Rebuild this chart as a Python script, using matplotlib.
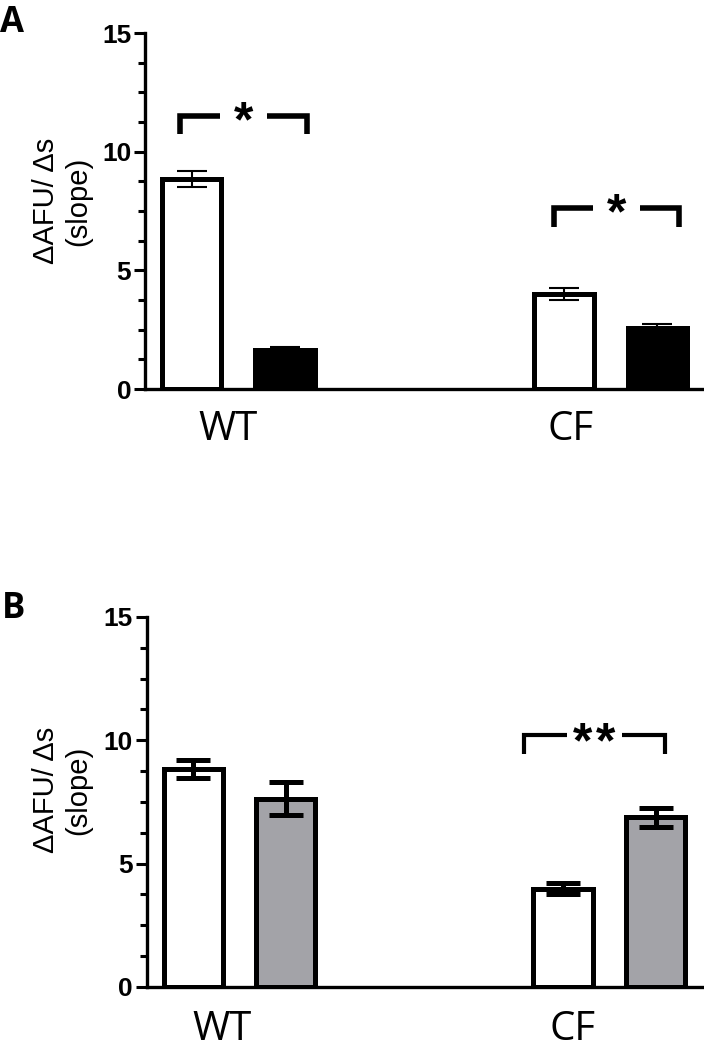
import numpy as np
import matplotlib
matplotlib.use("Agg")
import matplotlib.pyplot as plt
from matplotlib.transforms import blended_transform_factory

# Data (mean +/- SEM)
groups = ["WT", "CF"]
a_ctrl = [8.85, 4.00]
a_ctrl_err = [0.33, 0.24]
a_trt = [1.64, 2.58]
a_trt_err = [0.15, 0.16]

b_ctrl = [8.85, 3.99]
b_ctrl_err = [0.36, 0.24]
b_trt = [7.64, 6.88]
b_trt_err = [0.68, 0.38]

# significance brackets: (left, right, top, leg bottom, number of stars)
a_sig = [(-0.12, 1.24, 11.5, 10.75, 1), (3.89, 5.23, 7.63, 6.83, 1)]
b_sig = [(3.58, 5.10, 10.2, 9.46, 2)]

x_ctrl = np.array([0, 4])
x_trt = x_ctrl + 1
gray = "#a3a3a8"
width = 0.64

fig = plt.figure(figsize=(7.04, 10.5), dpi=100)
axA = fig.add_axes([0.206, 0.6295, 0.794, 0.339])
axB = fig.add_axes([0.2088, 0.06, 0.788, 0.3524])


def style_axis(ax, label_x, label_y):
    ax.set_xlim(-0.5, 5.5)
    ax.set_ylim(0, 15)
    for s in ["top", "right"]:
        ax.spines[s].set_visible(False)
    for s in ["left", "bottom"]:
        ax.spines[s].set_linewidth(2.4)
    ax.set_yticks([0, 5, 10, 15])
    ax.set_yticks(np.arange(0, 15.01, 1.25), minor=True)
    ax.tick_params(axis="y", which="major", length=8, width=2.2, pad=2)
    ax.tick_params(axis="y", which="minor", length=5, width=2.2)
    for t in ax.get_yticklabels():
        t.set_fontfamily("Liberation Sans")
        t.set_fontweight("bold")
        t.set_fontsize(19)
    ax.set_xticks([])
    trans = blended_transform_factory(ax.transData, ax.transAxes)
    for x, g in zip(label_x, groups):
        ax.text(x, -0.143, g, transform=trans, ha="center", va="baseline",
                fontsize=29, family="Open Sans")
    ax.text(label_y[0], label_y[1], "\u0394AFU/ \u0394s\n(slope)", transform=ax.transAxes,
            rotation=90, ha="center", va="center", fontsize=21,
            family="Liberation Sans", multialignment="center", linespacing=1.2)


def brackets(ax, sig, lw, half_gap, fs, dy, star_dx):
    for left, right, top, bot, n in sig:
        mid = (left + right) / 2
        ax.plot([left, left, mid - half_gap], [bot, top, top], color="black",
                lw=lw, solid_joinstyle="miter", solid_capstyle="butt")
        ax.plot([mid + half_gap, right, right], [top, top, bot], color="black",
                lw=lw, solid_joinstyle="miter", solid_capstyle="butt")
        offs = (np.arange(n) - (n - 1) / 2) * star_dx
        for o in offs:
            ax.text(mid + o, top + dy, "*", ha="center", va="center", fontsize=fs,
                    fontweight="bold", family="Liberation Sans")


# Panel A
axA.bar(x_ctrl, a_ctrl, width, color="white", edgecolor="black", linewidth=3.6, zorder=2)
axA.bar(x_trt, a_trt, width, color="black", edgecolor="black", linewidth=3.6, zorder=2)
axA.errorbar(x_ctrl, a_ctrl, yerr=a_ctrl_err, fmt="none", ecolor="black",
             elinewidth=1.5, capsize=11, capthick=1.5, zorder=3)
axA.errorbar(x_trt, a_trt, yerr=a_trt_err, fmt="none", ecolor="black",
             elinewidth=1.5, capsize=11, capthick=1.5, zorder=3)
style_axis(axA, [0.39, 4.07], (-0.148, 0.528))
brackets(axA, a_sig, 4.0, 0.25, 36, -0.3, 0.0)

# Panel B
axB.bar(x_ctrl, b_ctrl, width, color="white", edgecolor="black", linewidth=3.6, zorder=2)
axB.bar(x_trt, b_trt, width, color=gray, edgecolor="black", linewidth=3.6, zorder=2)
for xs, ys, es in [(x_ctrl, b_ctrl, b_ctrl_err), (x_trt, b_trt, b_trt_err)]:
    _, caps, bars = axB.errorbar(xs, ys, yerr=es, fmt="none", ecolor="black",
                                 elinewidth=3.6, capsize=12.5, capthick=3.6, zorder=3)
    for c in caps:
        c.set_solid_capstyle("round")
style_axis(axB, [0.31, 4.1], (-0.153, 0.532))
brackets(axB, b_sig, 3.0, 0.3, 36, -0.35, 0.25)

fig.text(0.0, 1 - 5 / 1050, "A", ha="left", va="top", fontsize=25,
         fontweight="bold", family="Open Sans")
fig.text(0.003, 1 - 591 / 1050, "B", ha="left", va="top", fontsize=25,
         fontweight="bold", family="Open Sans")

fig.savefig("out.png", dpi=100)
